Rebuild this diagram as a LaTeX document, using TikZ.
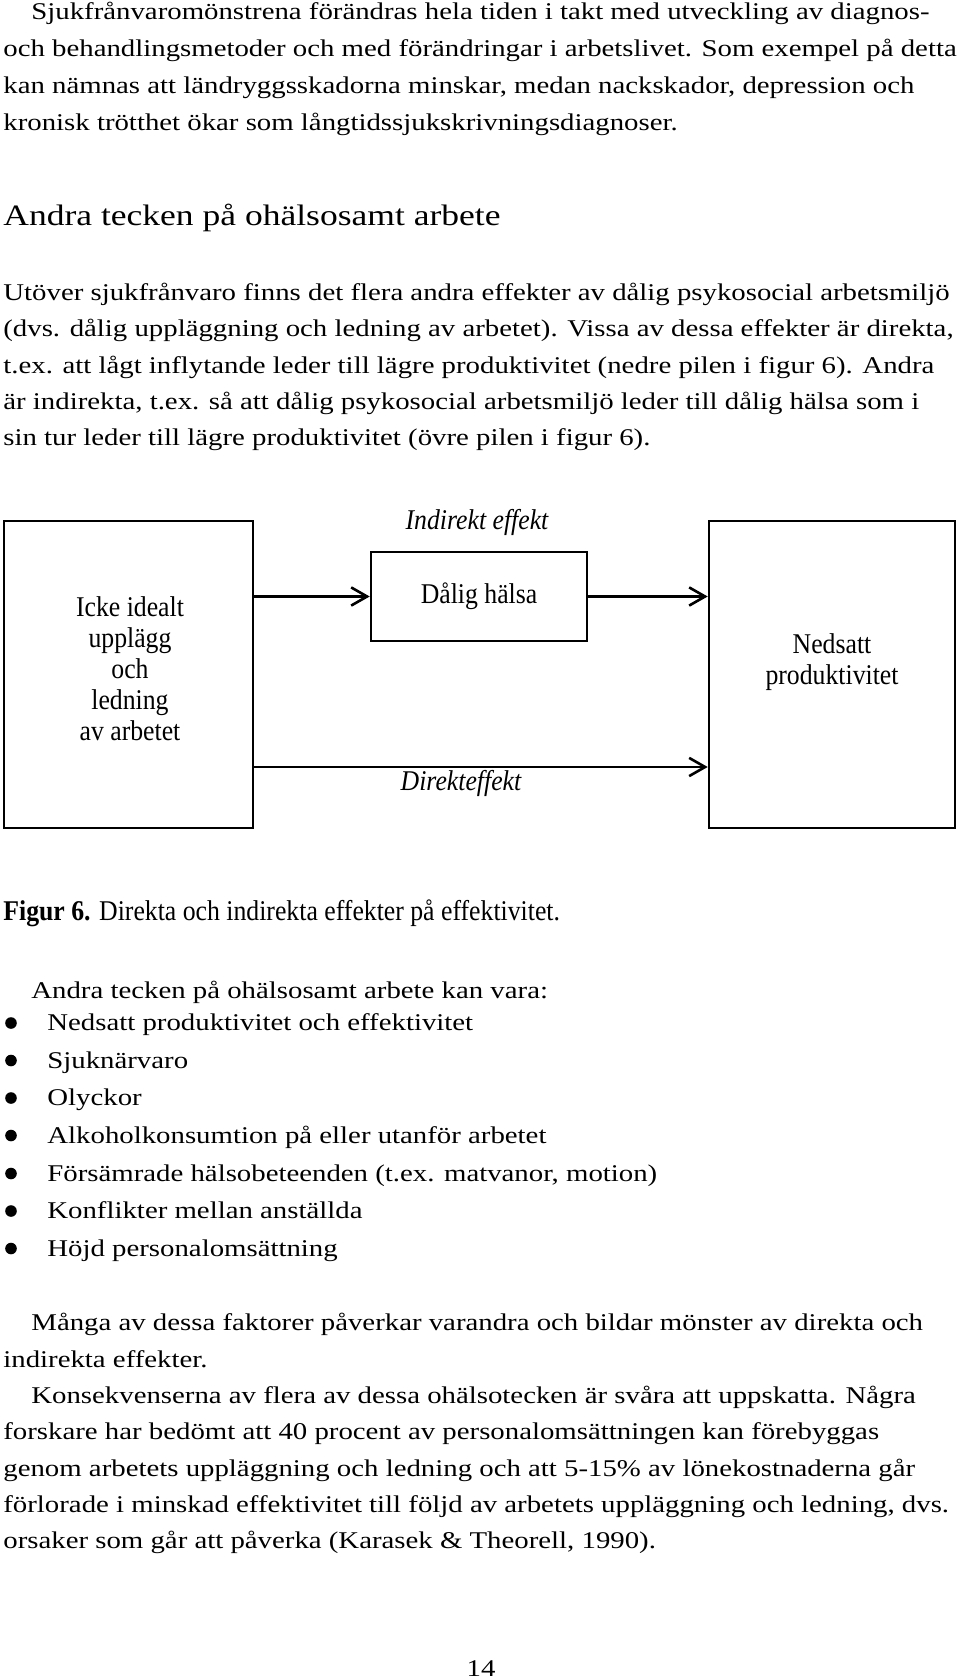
\documentclass[tikz,border=0pt]{standalone}
\usepackage{fontspec}
\setmainfont{Liberation Serif}[FakeStretch=1.2]
\newfontfamily\figfont{Liberation Serif}[FakeStretch=0.9]
\usetikzlibrary{arrows.meta,positioning}
\tikzset{>={Straight Barb[width=3.2mm,length=2.8mm]}}

\begin{document}
\begin{tikzpicture}[x=0.5pt,y=-0.5pt]
      \tikzstyle{txt} = [anchor=base west, inner sep=0pt, font=\fontsize{12}{14}\selectfont]
      \tikzstyle{ruta} = [draw=black, line width=1.3pt, rectangle, inner sep=0pt, align=center, font=\figfont\fontsize{14.3}{15.5}\selectfont]
      \tikzstyle{etikett} = [anchor=base, inner sep=0pt, font=\figfont\itshape\fontsize{14.3}{15.5}\selectfont]
      \useasboundingbox (0,0) rectangle (960,1680);

      \node[txt] (intro1) at (31,20) {Sjukfrånvaromönstrena förändras hela tiden i takt med utveckling av diagnos-};
      \node[txt] (intro2) at (3,57) {och behandlingsmetoder och med förändringar i arbetslivet. Som exempel på detta};
      \node[txt] (intro3) at (3,94) {kan nämnas att ländryggsskadorna minskar, medan nackskador, depression och};
      \node[txt] (intro4) at (3,131) {kronisk trötthet ökar som långtidssjukskrivningsdiagnoser.};

      \node[txt, font=\fontsize{14.8}{16}\selectfont] (rubrik) at (3,226) {Andra tecken på ohälsosamt arbete};

      \node[txt] (utover1) at (3,300) {Utöver sjukfrånvaro finns det flera andra effekter av dålig psykosocial arbetsmiljö};
      \node[txt] (utover2) at (3,336.5) {(dvs. dålig uppläggning och ledning av arbetet). Vissa av dessa effekter är direkta,};
      \node[txt] (utover3) at (3,373) {t.ex. att lågt inflytande leder till lägre produktivitet (nedre pilen i figur 6). Andra};
      \node[txt] (utover4) at (3,409.5) {är indirekta, t.ex. så att dålig psykosocial arbetsmiljö leder till dålig hälsa som i};
      \node[txt] (utover5) at (3,445) {sin tur leder till lägre produktivitet (övre pilen i figur 6).};

      \node[ruta, minimum width=124.5pt, minimum height=153.5pt] (ideal) at (128.5,674.5) {};
      \node[ruta, draw=none] (idealtext) at (130,669) {Icke idealt\\ upplägg\\ och\\ ledning\\ av arbetet};
      \node[ruta, minimum width=108pt, minimum height=44.5pt] (halsa) at (479,596.5) {Dålig hälsa};
      \node[ruta, minimum width=123pt, minimum height=153.5pt] (prod) at (832,674.5) {};
      \node[ruta, draw=none] (prodtext) at (832,662) {Nedsatt\\ produktivitet};

      \node[etikett] (indirekt) at (477,529) {Indirekt effekt};
      \node[etikett] (direkt) at (461,790) {Direkteffekt};
      \coordinate (nedre) at (480,767);

      \draw[black, line width=1.3pt, ->] (ideal.east |- halsa.west) -- (halsa.west);
      \draw[black, line width=1.3pt, ->] (halsa.east) -- (prod.west |- halsa.east);
      \draw[black, line width=1.3pt, ->] (ideal.east |- nedre) -- (prod.west |- nedre);

      \node[txt, font=\figfont\fontsize{14.3}{16}\selectfont] (figur) at (3,920) {\textbf{Figur 6.} Direkta och indirekta effekter på effektivitet.};
      \node[txt] (lista) at (31,998) {Andra tecken på ohälsosamt arbete kan vara:};
      \foreach \i/\y/\punkt in {1/1030.5/{Nedsatt produktivitet och effektivitet},
                                2/1068/{Sjuknärvaro},
                                3/1105.5/{Olyckor},
                                4/1143/{Alkoholkonsumtion på eller utanför arbetet},
                                5/1181/{Försämrade hälsobeteenden (t.ex. matvanor, motion)},
                                6/1218.5/{Konflikter mellan anställda},
                                7/1256/{Höjd personalomsättning}} {
        \node[circle, fill=black, inner sep=0pt, minimum size=5.8pt] (prick\i) at (11,\y-7.5) {};
        \node[txt] (punkt\i) at (47,\y) {\punkt};
      }

      \node[txt] (manga1) at (31,1330) {Många av dessa faktorer påverkar varandra och bildar mönster av direkta och};
      \node[txt] (manga2) at (3,1367) {indirekta effekter.};
      \node[txt] (konsek1) at (31,1403) {Konsekvenserna av flera av dessa ohälsotecken är svåra att uppskatta. Några};
      \node[txt] (konsek2) at (3,1439.5) {forskare har bedömt att 40 procent av personalomsättningen kan förebyggas};
      \node[txt] (konsek3) at (3,1476) {genom arbetets uppläggning och ledning och att 5-15\% av lönekostnaderna går};
      \node[txt] (konsek4) at (3,1512) {förlorade i minskad effektivitet till följd av arbetets uppläggning och ledning, dvs.};
      \node[txt] (konsek5) at (3,1548.5) {orsaker som går att påverka (Karasek \& Theorell, 1990).};

      \node[txt, anchor=base] (sida) at (481,1676) {14};
\end{tikzpicture}
\end{document}
